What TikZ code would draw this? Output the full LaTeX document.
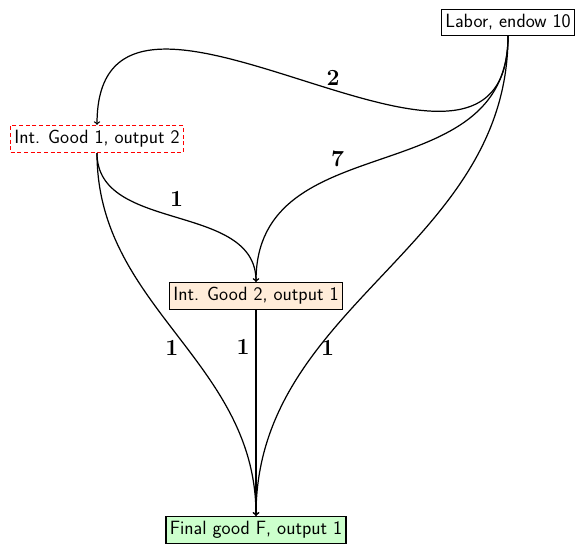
\documentclass[tikz,border=0pt]{standalone}
\usepackage{amsmath}
\usepackage{amssymb}
\usepackage{tikz}

\begin{document}
\begin{tikzpicture}[x=0.9pt,y=0.9pt,line width=1.1pt,
  every node/.style={font=\LARGE\sffamily},
  good/.style={draw,inner ysep=4.5pt},
  wt/.style={font=\huge}]
  \useasboundingbox (0,0) rectangle (578,-547);
  % goods
  \node[good] (labor) at (508,-22.5) {Labor, endow 10};
  \node[good,draw=red,dash pattern=on 3.6pt off 2.4pt] (good1) at (97,-139) {Int. Good 1, output 2};
  \node[good,fill=orange!15] (good2) at (256,-296) {Int. Good 2, output 1};
  \node[good,fill=green!20] (final) at (256,-530) {Final good F, output 1};
  % inputs
  \draw[->] (labor.south) to[out=-90,in=90,looseness=1.33] node[pos=.45,above,wt] {$\mathbf{2}$} (good1.north);
  \draw[->] (labor.south) to[out=-90,in=90,looseness=1.15] node[pos=.62,above,wt,yshift=4pt] {$\mathbf{7}$} (good2.north);
  \draw[->] (labor.south) to[out=-90,in=90] node[pos=.68,right,wt,yshift=2pt] {$\mathbf{1}$} (final.north);
  \draw[->] (good1.south) to[out=-90,in=90] node[pos=.5,above,wt,yshift=6pt] {$\mathbf{1}$} (good2.north);
  \draw[->] (good1.south) to[out=-90,in=90] node[pos=.545,left,wt,xshift=-4pt] {$\mathbf{1}$} (final.north);
  \draw[->] (good2.south) -- node[pos=.18,left,wt,xshift=-2pt] {$\mathbf{1}$} (final.north);
\end{tikzpicture}
\end{document}
